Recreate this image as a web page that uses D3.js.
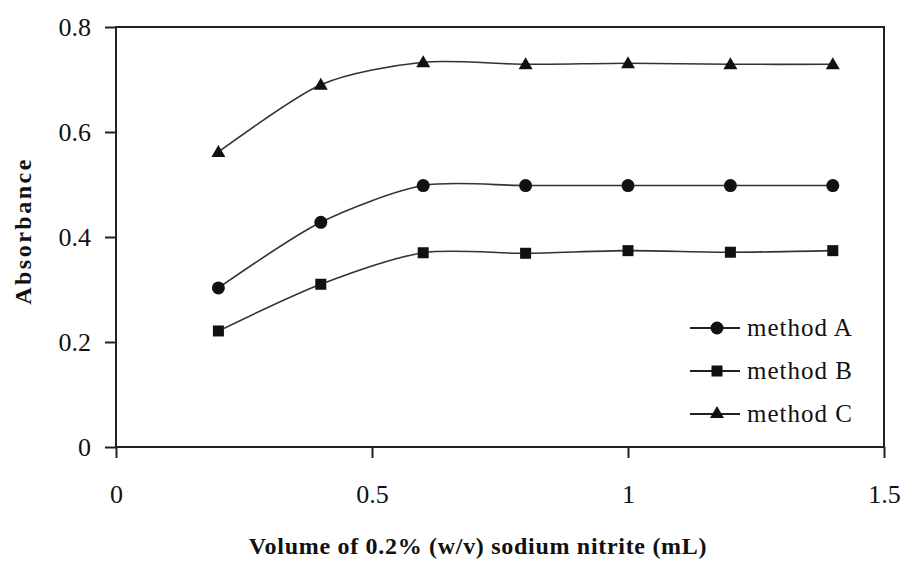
<!DOCTYPE html>
<html>
<head>
<meta charset="utf-8">
<script src="https://cdn.jsdelivr.net/npm/d3@7"></script>
<style>
  body { margin: 0; background: #fff; }
  text { font-family: "Liberation Serif", "Times New Roman", serif; fill: #111; }
</style>
</head>
<body>
<div id="chart"></div>
<script>
var volumes = [0.2, 0.4, 0.6, 0.8, 1.0, 1.2, 1.4]
var methodA = [0.303, 0.428, 0.498, 0.498, 0.498, 0.498, 0.498]
var methodB = [0.221, 0.310, 0.370, 0.369, 0.374, 0.371, 0.374]
var methodC = [0.562, 0.690, 0.733, 0.729, 0.731, 0.729, 0.729]
var xTicks = [0, 0.5, 1, 1.5]
var yTicks = [0, 0.2, 0.4, 0.6, 0.8]

var series = [
  {name: "method A", values: methodA, shape: "circle"},
  {name: "method B", values: methodB, shape: "square"},
  {name: "method C", values: methodC, shape: "triangle"}
]

var W = 902, H = 561
var margin = {top: 27, right: 18, bottom: 114, left: 116},
width = W - margin.left - margin.right,
height = H - margin.top - margin.bottom;

var svg = d3.select("#chart").append("svg")
  .attr("width", W)
  .attr("height", H)
  .append("g")
    .attr("transform", "translate(" + margin.left + "," + margin.top + ")");

var x = d3.scaleLinear().range([0, width]).domain([0, 1.5])
var y = d3.scaleLinear().range([height, 0]).domain([0, 0.8])

// frame
svg.append("rect")
  .attr("width", width)
  .attr("height", height)
  .attr("fill", "none")
  .attr("stroke", "#222")
  .attr("stroke-width", 2)

var yAxis = svg.append("g")
  .call(d3.axisLeft(y).tickValues(yTicks).tickSize(11).tickPadding(14).tickFormat(d3.format("")))
yAxis.select(".domain").remove()
yAxis.selectAll("line").attr("stroke", "#222").attr("stroke-width", 2)
yAxis.selectAll("text").style("font-size", "26px").attr("fill", "#111").attr("font-family", "Liberation Serif")

var xAxis = svg.append("g")
  .attr("transform", "translate(0," + height + ")")
  .call(d3.axisBottom(x).tickValues(xTicks).tickSize(11).tickPadding(27).tickFormat(d3.format("")))
xAxis.select(".domain").remove()
xAxis.selectAll("line").attr("stroke", "#222").attr("stroke-width", 2)
xAxis.selectAll("text").style("font-size", "26px").attr("fill", "#111").attr("font-family", "Liberation Serif")

svg.append("text")
  .attr("transform", "rotate(-90)")
  .attr("x", -(height / 2) + 6)
  .attr("y", -margin.left + 31)
  .style("text-anchor", "middle")
  .style("font-size", "24px")
  .style("letter-spacing", "2.5px")
  .style("font-weight", "bold")
  .text("Absorbance");

svg.append("text")
  .attr("x", width / 2 - 22)
  .attr("y", height + 107)
  .style("text-anchor", "middle")
  .style("font-size", "24px")
  .style("letter-spacing", "0.7px")
  .style("font-weight", "bold")
  .text("Volume of 0.2% (w/v) sodium nitrite (mL)");

var line = d3.line()
  .x(function(d){ return x(d[0]) })
  .y(function(d){ return y(d[1]) })
  .curve(d3.curveCardinal.tension(0.2))

function drawMarker(g, shape, cx, cy){
  if(shape == "circle"){
    g.append("circle").attr("cx", cx).attr("cy", cy).attr("r", 6.5).attr("fill", "#111")
  }
  else if(shape == "square"){
    g.append("rect").attr("x", cx - 5.5).attr("y", cy - 5.5).attr("width", 11).attr("height", 11).attr("fill", "#111")
  }
  else {
    g.append("path")
      .attr("d", "M" + cx + "," + (cy - 7) + "L" + (cx + 7) + "," + (cy + 5) + "L" + (cx - 7) + "," + (cy + 5) + "Z")
      .attr("fill", "#111")
  }
}

series.forEach(function(s){
  var pts = volumes.map(function(v, i){ return [v, s.values[i]] })
  svg.append("path")
    .datum(pts)
    .attr("d", line)
    .attr("fill", "none")
    .attr("stroke", "#333")
    .attr("stroke-width", 1.6)
  var g = svg.append("g")
  pts.forEach(function(p){ drawMarker(g, s.shape, x(p[0]), y(p[1])) })
})

// legend
var legend = svg.append("g").attr("transform", "translate(" + (690 - margin.left) + "," + (328 - margin.top) + ")")
series.forEach(function(s, i){
  var ly = i * 43
  legend.append("line")
    .attr("x1", 0).attr("x2", 50)
    .attr("y1", ly).attr("y2", ly)
    .attr("stroke", "#222").attr("stroke-width", 2)
  drawMarker(legend, s.shape, 27, s.shape == "triangle" ? ly - 1 : ly)
  legend.append("text")
    .attr("x", 57)
    .attr("y", ly + 8)
    .style("font-size", "25px")
    .style("letter-spacing", "1px")
    .text(s.name)
})
</script>
</body>
</html>
